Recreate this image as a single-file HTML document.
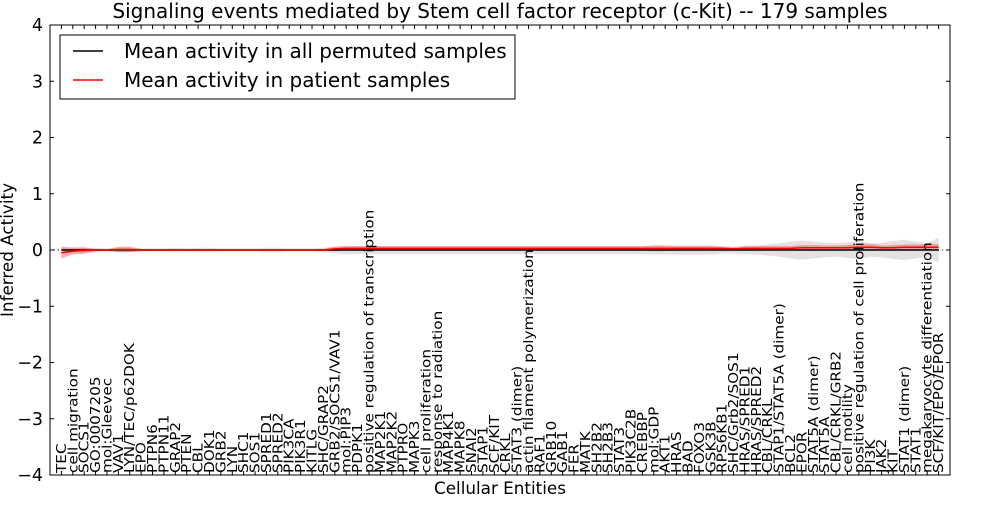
<!DOCTYPE html>
<html><head><meta charset="utf-8"><style>
body{margin:0;background:#fff;}
svg text{font-family:"DejaVu Sans","Liberation Sans",sans-serif;}
</style></head><body>
<svg id="chart" width="1000" height="500" xmlns="http://www.w3.org/2000/svg"></svg>
<script>
const labels=["TEC","cell migration","SOCS1","GO:0007205","mol:Gleevec","VAV1","LYN/TEC/p62DOK","EPO","PTPN6","PTPN11","GRAP2","PTEN","CBL","DOK1","GRB2","LYN","SHC1","SOS1","SPRED1","SPRED2","PIK3CA","PIK3R1","KITLG","SHC/GRAP2","GRB2/SOCS1/VAV1","mol:PIP3","PDPK1","positive regulation of transcription","MAP2K1","MAP2K2","PTPRO","MAPK3","cell proliferation","response to radiation","MAP4K1","MAPK8","SNAI2","STAP1","SCF/KIT","CRKL","STAT3 (dimer)","actin filament polymerization","RAF1","GRB10","GAB1","FER","MATK","SH2B2","SH2B3","STAT3","PIK3C2B","CREBBP","mol:GDP","AKT1","HRAS","BAD","FOXO3","GSK3B","RPS6KB1","SHC/Grb2/SOS1","HRAS/SPRED1","HRAS/SPRED2","CBL/CRKL","STAP1/STAT5A (dimer)","BCL2","EPOR","STAT5A (dimer)","STAT5A","CBL/CRKL/GRB2","cell motility","positive regulation of cell proliferation","PI3K","JAK2","KIT","STAT1 (dimer)","STAT1","megakaryocyte differentiation","SCF/KIT/EPO/EPOR"];
const patientMean=[-0.05,-0.02,-0.01,0,0,0.01,0.01,0,0,0,0,0,0,0,0,0,0,0,0,0,0,0,0,0,0.02,0.03,0.03,0.03,0.03,0.03,0.03,0.03,0.03,0.03,0.03,0.03,0.03,0.03,0.03,0.03,0.03,0.03,0.03,0.03,0.03,0.03,0.03,0.03,0.03,0.03,0.03,0.03,0.03,0.03,0.03,0.03,0.03,0.03,0.03,0.02,0.03,0.03,0.03,0.03,0.03,0.04,0.04,0.04,0.04,0.04,0.05,0.05,0.04,0.04,0.05,0.05,0.05,0.05];
const patientSpread=[0.1,0.06,0.06,0.02,0.01,0.05,0.05,0.02,0.01,0.01,0.01,0.01,0.01,0.01,0.01,0.01,0.01,0.01,0.01,0.01,0.01,0.01,0.01,0.02,0.04,0.04,0.04,0.04,0.04,0.04,0.04,0.04,0.04,0.04,0.04,0.04,0.04,0.04,0.04,0.04,0.04,0.04,0.04,0.04,0.04,0.04,0.04,0.04,0.04,0.04,0.04,0.04,0.05,0.05,0.04,0.04,0.04,0.04,0.03,0.03,0.04,0.04,0.04,0.04,0.04,0.05,0.05,0.04,0.04,0.05,0.06,0.06,0.04,0.05,0.05,0.05,0.05,0.06];
const permMean=[0,0,0,0,0,0,0,0,0,0,0,0,0,0,0,0,0,0,0,0,0,0,0,0,0,0,0,0,0,0,0,0,0,0,0,0,0,0,0,0,0,0,0,0,0,0,0,0,0,0,0,0,0,0,0,0,0,0,0,0,0,0,0,0,0,0,0,0,0,0,0,0,0,0,0,0,0,0];
const permSpread=[0.06,0.05,0.04,0.04,0.03,0.04,0.04,0.03,0.03,0.03,0.04,0.03,0.04,0.04,0.03,0.03,0.03,0.03,0.04,0.04,0.03,0.03,0.03,0.04,0.06,0.07,0.07,0.07,0.07,0.07,0.07,0.07,0.07,0.07,0.07,0.07,0.07,0.07,0.07,0.07,0.07,0.07,0.07,0.07,0.07,0.07,0.07,0.07,0.07,0.07,0.07,0.07,0.08,0.08,0.08,0.08,0.08,0.08,0.06,0.06,0.07,0.08,0.1,0.12,0.15,0.17,0.15,0.13,0.12,0.14,0.16,0.12,0.13,0.16,0.18,0.15,0.12,0.22];
const yTicks=[4,3,2,1,0,-1,-2,-3,-4];

const svg=document.getElementById('chart');const NS='http://www.w3.org/2000/svg';
const L=50,R=950,T=25,B=475;
const xs=i=>L+(i+1)*(R-L)/(labels.length+1);
const ys=v=>T+(4-v)*(B-T)/8;
function mk(tag,attrs,parent){const e=document.createElementNS(NS,tag);for(const k in attrs)e.setAttribute(k,attrs[k]);(parent||svg).appendChild(e);return e;}
function band(mean,spread,fill,name){let d='';mean.forEach((m,i)=>{d+=(i?'L':'M')+xs(i)+','+ys(m+spread[i]);});for(let i=mean.length-1;i>=0;i--)d+='L'+xs(i)+','+ys(mean[i]-spread[i]);d+='Z';
const p=mk('path',{d:d,fill:fill,stroke:'none'});

}
function line(mean,color,name){const p=mk('polyline',{points:mean.map((m,i)=>xs(i)+','+ys(m)).join(' '),fill:'none',stroke:color,'stroke-width':1.5});

}
band(permMean,permSpread,'rgba(190,190,190,0.45)','permuted-band');
band(patientMean,patientSpread,'rgba(255,0,0,0.3)','patient-band');
const zl=mk('line',{x1:L,x2:R,y1:ys(0),y2:ys(0),stroke:'#000','stroke-dasharray':'1,3'});


line(permMean,'#000','permuted-mean-line');
line(patientMean,'#f00','patient-mean-line');
const frame=mk('rect',{x:L,y:T,width:R-L,height:B-T,fill:'none',stroke:'#000','stroke-width':1});


yTicks.forEach(v=>{mk('line',{x1:L,x2:L+4,y1:ys(v),y2:ys(v),stroke:'#000'});mk('line',{x1:R,x2:R-4,y1:ys(v),y2:ys(v),stroke:'#000'});
const t=mk('text',{x:L-7,y:ys(v)+6,'text-anchor':'end','font-size':17.5});t.textContent=(v<0?'\u2212':'')+Math.abs(v);

});
labels.forEach((lb,i)=>{const x=xs(i);mk('line',{x1:x,x2:x,y1:B,y2:B-4,stroke:'#000'});mk('line',{x1:x,x2:x,y1:T,y2:T+4,stroke:'#000'});
const t=mk('text',{x:0,y:0,transform:'translate('+(x+4.5)+','+(B-2)+') rotate(-90) scale(1.13,1)','font-size':13.5});t.textContent=lb;

});
const ti=mk('text',{x:500,y:18,'text-anchor':'middle','font-size':20});ti.textContent='Signaling events mediated by Stem cell factor receptor (c-Kit) -- 179 samples';


const xt=mk('text',{x:500,y:494,'text-anchor':'middle','font-size':16.8});xt.textContent='Cellular Entities';


const yt=mk('text',{x:0,y:0,transform:'translate(13,250) rotate(-90)','text-anchor':'middle','font-size':16.8});yt.textContent='Inferred Activity';


const lg=mk('g',{});


mk('rect',{x:60,y:35,width:455,height:64,fill:'#fff',stroke:'#000'},lg);
mk('line',{x1:73,x2:103,y1:51,y2:51,stroke:'#000','stroke-width':1.5},lg);
mk('line',{x1:73,x2:103,y1:80,y2:80,stroke:'#f00','stroke-width':1.5},lg);
const l1=mk('text',{x:124,y:58,'font-size':20},lg);l1.textContent='Mean activity in all permuted samples';


const l2=mk('text',{x:124,y:87,'font-size':20},lg);l2.textContent='Mean activity in patient samples';


</script>
</body></html>
